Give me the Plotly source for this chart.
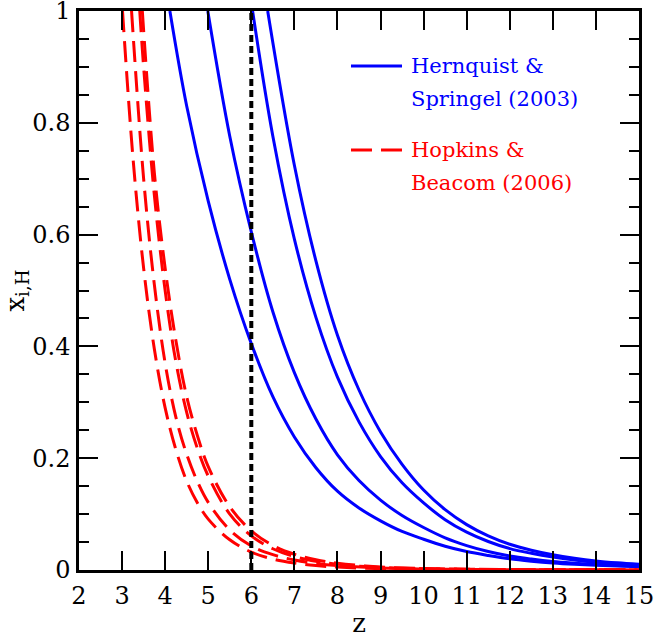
import plotly.graph_objects as go

# Ionized hydrogen fraction x_{i,H} versus redshift z
# Hernquist & Springel (2003) star-formation history: four solid curves
hs1_z = [4.11, 4.5, 5.0, 5.5, 6.0, 6.5, 7.0, 7.5, 8.0, 8.5, 9.0, 9.5, 10.0, 10.5, 11.0, 11.5, 12.0, 12.5, 13.0, 13.5, 14.0, 14.5, 15.0]
hs1_x = [1.0, 0.83, 0.66, 0.52, 0.405, 0.31, 0.238, 0.183, 0.141, 0.111, 0.088, 0.069, 0.055, 0.0425, 0.033, 0.026, 0.020, 0.0158, 0.0125, 0.0102, 0.0085, 0.0071, 0.006]

hs2_z = [4.99, 5.5, 6.0, 6.5, 7.0, 7.5, 8.0, 8.5, 9.0, 9.5, 10.0, 10.5, 11.0, 11.5, 12.0, 12.5, 13.0, 13.5, 14.0, 14.5, 15.0]
hs2_x = [1.0, 0.776, 0.605, 0.462, 0.353, 0.27, 0.206, 0.16, 0.125, 0.0975, 0.076, 0.0575, 0.0437, 0.0331, 0.0251, 0.0196, 0.0152, 0.0122, 0.0097, 0.0082, 0.0069]

hs3_z = [6.03, 6.5, 7.0, 7.5, 8.0, 8.5, 9.0, 9.5, 10.0, 10.5, 11.0, 11.5, 12.0, 12.5, 13.0, 13.5, 14.0, 14.5, 15.0]
hs3_x = [1.0, 0.776, 0.592, 0.452, 0.345, 0.265, 0.203, 0.156, 0.120, 0.090, 0.0677, 0.051, 0.0383, 0.0299, 0.0232, 0.018, 0.014, 0.011, 0.0085]

hs4_z = [6.38, 7.0, 7.5, 8.0, 8.5, 9.0, 9.5, 10.0, 10.5, 11.0, 11.5, 12.0, 12.5, 13.0, 13.5, 14.0, 14.5, 15.0]
hs4_x = [1.0, 0.724, 0.553, 0.42, 0.322, 0.247, 0.189, 0.143, 0.108, 0.0812, 0.061, 0.046, 0.0354, 0.0272, 0.021, 0.0162, 0.0128, 0.0102]

# Hopkins & Beacom (2006) star-formation history: four dashed curves
hb1_z = [3.01, 3.25, 3.5, 3.75, 4.0, 4.25, 4.5, 4.75, 5.0, 5.5, 6.0, 6.5, 7.0, 7.5, 8.0, 9.0, 10.0, 11.0, 12.0, 13.0, 14.0, 15.0]
hb1_x = [1.0, 0.74, 0.54, 0.395, 0.29, 0.215, 0.159, 0.12, 0.091, 0.054, 0.032, 0.0195, 0.0124, 0.008, 0.0052, 0.0024, 0.0012, 0.0007, 0.0004, 0.0003, 0.0002, 0.0002]

hb2_z = [3.22, 3.5, 3.75, 4.0, 4.25, 4.5, 4.75, 5.0, 5.5, 6.0, 6.5, 7.0, 7.5, 8.0, 9.0, 10.0, 11.0, 12.0, 13.0, 14.0, 15.0]
hb2_x = [1.0, 0.70, 0.51, 0.37, 0.273, 0.207, 0.158, 0.121, 0.0715, 0.043, 0.0275, 0.0178, 0.0118, 0.0079, 0.0037, 0.0019, 0.0011, 0.0006, 0.0004, 0.0003, 0.0002]

hb3_z = [3.41, 3.5, 3.75, 4.0, 4.25, 4.5, 4.75, 5.0, 5.5, 6.0, 6.5, 7.0, 7.5, 8.0, 9.0, 10.0, 11.0, 12.0, 13.0, 14.0, 15.0]
hb3_x = [1.0, 0.90, 0.67, 0.50, 0.372, 0.282, 0.217, 0.168, 0.10, 0.061, 0.038, 0.024, 0.0155, 0.0102, 0.0046, 0.0023, 0.0013, 0.0008, 0.0005, 0.0003, 0.0002]

hb4_z = [3.47, 3.75, 4.0, 4.25, 4.5, 4.75, 5.0, 5.5, 6.0, 6.5, 7.0, 7.5, 8.0, 9.0, 10.0, 11.0, 12.0, 13.0, 14.0, 15.0]
hb4_x = [1.0, 0.71, 0.54, 0.41, 0.31, 0.24, 0.185, 0.113, 0.07, 0.044, 0.0282, 0.0182, 0.012, 0.0054, 0.0026, 0.0014, 0.0008, 0.0005, 0.0003, 0.0002]

# Reference redshift marked by the vertical dotted line
z_mark = 6.0

# Axis ticks
x_ticks = list(range(2, 16))
y_ticks = [0, 0.2, 0.4, 0.6, 0.8, 1]
y_tick_text = ["0", "0.2", "0.4", "0.6", "0.8", "1"]

# Legend entries
legend_labels = [
    ("Hernquist &", "Springel (2003)", "#0000ff", "solid"),
    ("Hopkins &", "Beacom (2006)", "#ff0000", "21px,9px"),
]

BLUE = "#0000ff"
RED = "#ff0000"
FONT = "DejaVu Serif"

fig = go.Figure()

for zs, xs in [(hs1_z, hs1_x), (hs2_z, hs2_x), (hs3_z, hs3_x), (hs4_z, hs4_x)]:
    fig.add_trace(go.Scatter(x=zs, y=xs, mode="lines",
                             line=dict(color=BLUE, width=3, shape="spline"),
                             showlegend=False, hoverinfo="skip"))

for zs, xs in [(hb1_z, hb1_x), (hb2_z, hb2_x), (hb3_z, hb3_x), (hb4_z, hb4_x)]:
    fig.add_trace(go.Scatter(x=zs, y=xs, mode="lines",
                             line=dict(color=RED, width=3, shape="spline", dash="21px,9px"),
                             showlegend=False, hoverinfo="skip"))

fig.add_trace(go.Scatter(x=[z_mark, z_mark], y=[0, 1], mode="lines",
                         line=dict(color="black", width=4, dash="7px,4px"),
                         showlegend=False, hoverinfo="skip"))

# Hand-placed legend: sample line plus two text rows per entry
key_x0, key_x1 = 0.4857, 0.5768
text_x = 0.590
row_y = [(0.9016, 0.8426), (0.7513, 0.6923)]
for (l1, l2, col, dash), (y1, y2) in zip(legend_labels, row_y):
    fig.add_shape(type="line", xref="paper", yref="paper",
                  x0=key_x0, x1=key_x1, y0=y1, y1=y1,
                  line=dict(color=col, width=3, dash=dash))
    for txt, yy in [(l1, y1), (l2, y2)]:
        fig.add_annotation(x=text_x, y=yy, xref="paper", yref="paper",
                           text=txt, showarrow=False, xanchor="left", yanchor="middle",
                           font=dict(family=FONT, size=21, color=col))

axis_common = dict(
    showline=True, linewidth=2.5, linecolor="black",
    mirror="allticks", ticks="inside", ticklen=19, tickwidth=1.5, tickcolor="black",
    showgrid=False, zeroline=False, automargin=False,
    ticklabeloverflow="allow",
    tickfont=dict(family=FONT, size=24, color="black"),
)

fig.update_xaxes(range=[2, 15], tickmode="array", tickvals=x_ticks,
                 title=dict(text="z", font=dict(family=FONT, size=26, color="black"), standoff=6),
                 ticklabelstandoff=2, **axis_common)
fig.update_yaxes(range=[0, 1], tickmode="array", tickvals=y_ticks, ticktext=y_tick_text,
                 minor=dict(dtick=0.05, tick0=0, ticks="inside", ticklen=10, tickwidth=1.5,
                            tickcolor="black", showgrid=False),
                 title=dict(text="x<sub>i,H</sub>", font=dict(family=FONT, size=26, color="black"), standoff=6),
                 ticklabelstandoff=1, **axis_common)

fig.update_layout(
    width=656, height=638,
    margin=dict(l=79, r=17, t=11, b=68),
    paper_bgcolor="white", plot_bgcolor="white",
    showlegend=False,
)

fig.write_html("out.html")
